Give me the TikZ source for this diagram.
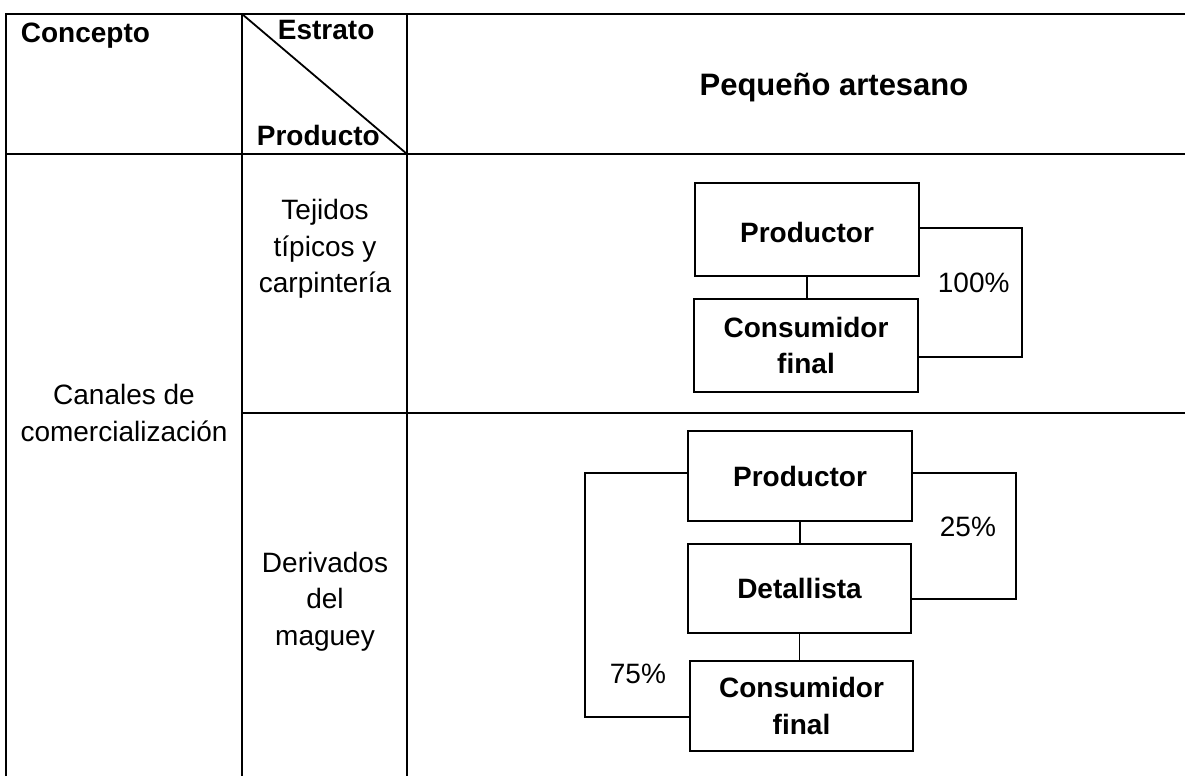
\documentclass[tikz,border=0pt]{standalone}
\usepackage{fontspec}
\setmainfont{Liberation Sans}
\begin{document}
\begin{tikzpicture}[x=1pt,y=-1pt,line width=1.8pt,
  txt/.style={font=\fontsize{28}{36.5}\selectfont, inner sep=0pt, align=center},
  hdr/.style={font=\bfseries\fontsize{28}{36.5}\selectfont, inner sep=0pt},
  chbox/.style={draw, font=\bfseries\fontsize{28}{36.5}\selectfont, align=center, inner sep=0pt, minimum width=224pt, minimum height=92pt},
  link/.style={draw, line width=1.8pt}]
\useasboundingbox (0,0) rectangle (1185,776);
% table rules
\draw (6,776) -- (6,14) -- (1185,14);
\draw (6,154) -- (1185,154);
\draw (242,14) -- (242,776);
\draw (407,14) -- (407,776);
\draw (242,413) -- (1185,413);
\draw (242,14) -- (407,154);
% header texts
\node[hdr, anchor=base west] (concepto) at (20,42) {Concepto};
\node[hdr, anchor=base west] (estrato) at (277,40) {Estrato};
\node[hdr, anchor=base west] (producto) at (256,145) {Producto};
\node[hdr, anchor=base, font=\bfseries\fontsize{31}{37}\selectfont] (estr) at (834,95) {Pequeño artesano};
% left column texts
\node[txt] (canales) at (124,413) {Canales de\\comercialización};
\node[txt] (tejidos) at (325,249) {Tejidos\\típicos y\\carpintería};
\node[txt] (maguey) at (325,601.5) {Derivados\\del\\maguey};
% row 1 channel
\node[chbox, minimum height=93pt, text height=26pt, text depth=0pt] (p1) at (807,229.5) {Productor};
\node[chbox, minimum height=93pt] (c1) at (806,345.5) {Consumidor\\final};
\draw[link] (p1.south) -- (p1.south |- c1.north);
\coordinate (r1t) at (1022,228);
\coordinate (r1b) at (1022,357);
\draw[link] (p1.east |- r1t) -- (r1t) -- (r1b) -- (c1.east |- r1b);
\node[txt, anchor=base west] (pc100) at (937,292) {100\%};
% row 2 channel
\node[chbox, minimum height=90pt] (p2) at (800,476) {Productor};
\node[chbox, minimum width=223pt, minimum height=89pt] (d2) at (799.5,588.5) {Detallista};
\node[chbox, minimum width=223pt, minimum height=90pt] (c2) at (801.5,706) {Consumidor\\final};
\draw[link] (p2.south) -- (p2.south |- d2.north);
\draw[link] (d2.south) -- (d2.south |- c2.north);
\coordinate (l2t) at (585,473);
\coordinate (l2b) at (585,717);
\draw[link] (p2.west |- l2t) -- (l2t) -- (l2b) -- (c2.west |- l2b);
\coordinate (r2t) at (1016,473);
\coordinate (r2b) at (1016,599);
\draw[link] (p2.east |- r2t) -- (r2t) -- (r2b) -- (d2.east |- r2b);
\node[txt, anchor=base west] (pc25) at (939,536) {25\%};
\node[txt, anchor=base west] (pc75) at (609,683) {75\%};
\end{tikzpicture}
\end{document}
